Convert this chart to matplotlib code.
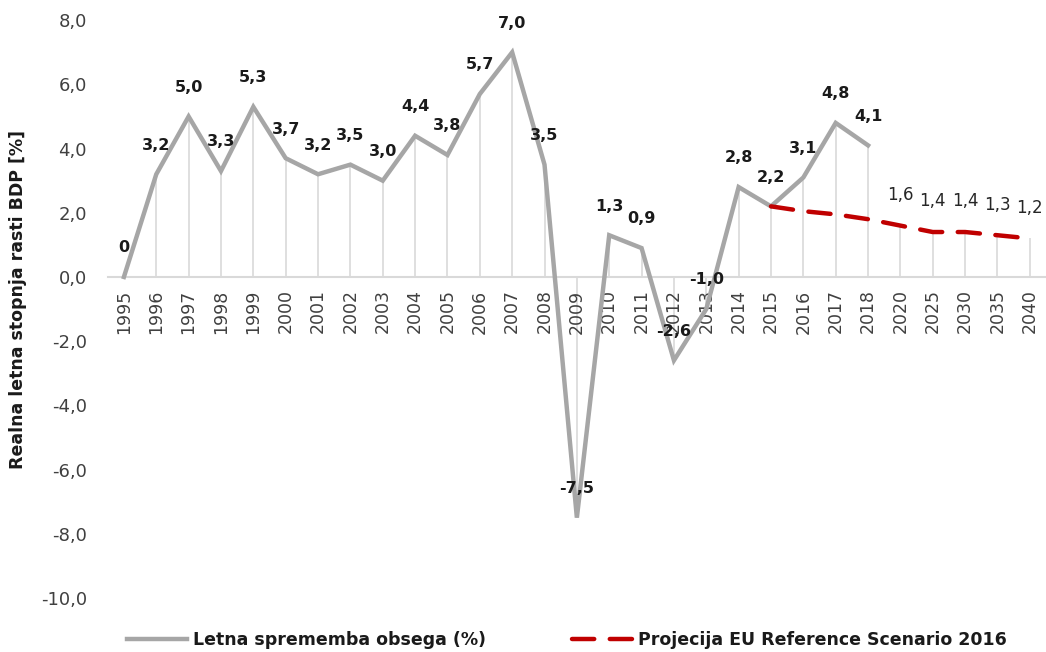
import matplotlib
matplotlib.use('Agg')
import matplotlib.pyplot as plt
from matplotlib.ticker import FuncFormatter
import numpy as np

plt.rcParams['font.family'] = ['DejaVu Sans']

years = ['1995', '1996', '1997', '1998', '1999', '2000', '2001', '2002', '2003', '2004',
         '2005', '2006', '2007', '2008', '2009', '2010', '2011', '2012', '2013', '2014',
         '2015', '2016', '2017', '2018', '2020', '2025', '2030', '2035', '2040']

# actual growth 1995-2018
growth = [0.0, 3.2, 5.0, 3.3, 5.3, 3.7, 3.2, 3.5, 3.0, 4.4,
          3.8, 5.7, 7.0, 3.5, -7.5, 1.3, 0.9, -2.6, -1.0, 2.8,
          2.2, 3.1, 4.8, 4.1]

# EU reference scenario 2016, from 2015 onward
proj_start = 20
projection = [2.2, 2.05, 1.95, 1.8, 1.6, 1.4, 1.4, 1.3, 1.2]
proj_labelled_from = 4   # labels only shown from 2020

grey = '#a6a6a6'
red = '#c00000'

fig = plt.figure(figsize=(10.46, 6.52), dpi=100)
ax = fig.add_axes([0.103, 0.083, 0.897, 0.886])

x = np.arange(len(years))
x_act = x[:len(growth)]
x_proj = x[proj_start:proj_start + len(projection)]

# drop lines from zero to the outermost point of each category
tops = np.full(len(years), np.nan)
tops[:len(growth)] = growth
for xi, v in zip(x_proj, projection):
    if np.isnan(tops[xi]) or abs(v) > abs(tops[xi]):
        tops[xi] = v
ax.vlines(x, 0, tops, color='#d9d9d9', lw=1.2, zorder=1)

ax.plot(x_act, growth, color=grey, lw=3.2, solid_joinstyle='miter', zorder=3,
        label='Letna sprememba obsega (%)')
ax.plot(x_proj, projection, color=red, lw=3.2, dashes=(5, 3.5), dash_capstyle='round',
        zorder=4, label='Projecija EU Reference Scenario 2016')


def fmt(v):
    if v == 0:
        return '0'
    return f'{v:.1f}'.replace('.', ',')


for xi, v in zip(x_act, growth):
    ax.annotate(fmt(v), (xi, v), xytext=(0, 21), textcoords='offset points',
                ha='center', va='center', fontsize=11.5, fontweight='bold', color='#1a1a1a')
for xi, v in list(zip(x_proj, projection))[proj_labelled_from:]:
    ax.annotate(fmt(v), (xi, v), xytext=(0, 22), textcoords='offset points',
                ha='center', va='center', fontsize=12, color='#262626')

ax.set_xlim(-0.5, len(years) - 0.5)
ax.set_ylim(-10, 8)
ax.set_yticks(np.arange(-10, 9, 2))
ax.yaxis.set_major_formatter(FuncFormatter(lambda v, p: f'{v:.1f}'.replace('.', ',')))
ax.set_xticks(x)
ax.set_xticklabels(years)

for s in ['top', 'right', 'left']:
    ax.spines[s].set_visible(False)
ax.spines['bottom'].set_position(('data', 0))
ax.spines['bottom'].set_color('#d9d9d9')
ax.spines['bottom'].set_linewidth(1.5)
ax.spines['bottom'].set_zorder(0)
ax.tick_params(axis='both', length=0, labelcolor='#404040')
ax.tick_params(axis='y', pad=15, labelsize=13)
ax.tick_params(axis='x', pad=9, labelsize=12.5, labelrotation=90)

fig.text(0.017, 0.54, 'Realna letna stopnja rasti BDP [%]', rotation=90,
         ha='center', va='center', fontsize=12.5, fontweight='bold', color='#1a1a1a')

leg = fig.legend(loc='center', bbox_to_anchor=(0.542, 0.018), ncol=2, frameon=False,
                 fontsize=12.5, columnspacing=5.0, handlelength=3.5, handletextpad=0.3)
for t in leg.get_texts():
    t.set_fontweight('bold')
    t.set_color('#1a1a1a')

fig.savefig('out.png', dpi=100)
